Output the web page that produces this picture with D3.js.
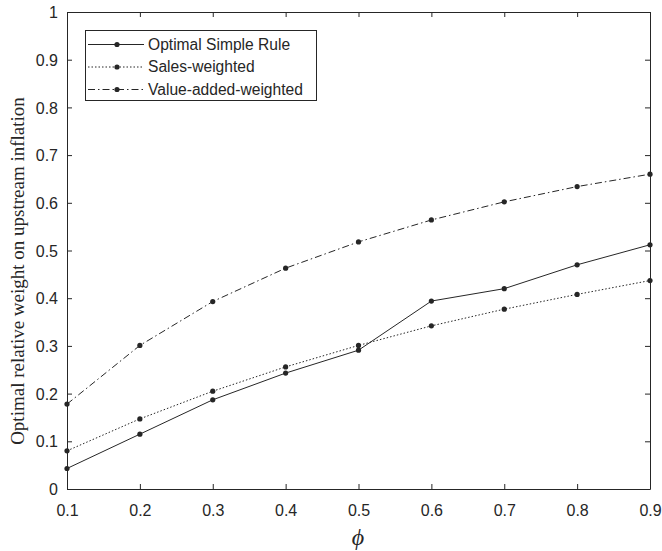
<!DOCTYPE html>
<html><head><meta charset="utf-8">
<script src="https://cdn.jsdelivr.net/npm/d3@7"></script>
<style>body{margin:0;background:#fff}</style>
</head><body>
<svg id="c" width="662" height="551"></svg>
<script>
const phi = [0.1,0.2,0.3,0.4,0.5,0.6,0.7,0.8,0.9];
const optimal = [0.043,0.115,0.187,0.243,0.291,0.394,0.420,0.470,0.512];
const sales = [0.080,0.147,0.205,0.256,0.301,0.342,0.377,0.408,0.437];
const valueAdded = [0.178,0.301,0.393,0.463,0.518,0.564,0.602,0.634,0.660];
const seriesNames = ["Optimal Simple Rule","Sales-weighted","Value-added-weighted"];
const xTicks = [0.1,0.2,0.3,0.4,0.5,0.6,0.7,0.8,0.9];
const yTicks = [0,0.1,0.2,0.3,0.4,0.5,0.6,0.7,0.8,0.9,1];

const svg = d3.select("#c");
const L=67, R=650, T=12, B=489;
const x = d3.scaleLinear().domain([0.1,0.9]).range([L,R]);
const y = d3.scaleLinear().domain([0,1]).range([B,T]);
const col = "#262626";
const fmt = d => d===0?"0":d===1?"1":d3.format(".1f")(d);
const tf = "Liberation Sans, Arial, sans-serif";

svg.append("rect").attr("x",L).attr("y",T).attr("width",R-L).attr("height",B-T).attr("fill","#fff");

// axes
const gx = svg.append("g").attr("transform",`translate(0,${B})`)
  .call(d3.axisBottom(x).tickValues(xTicks).tickFormat(fmt).tickSizeInner(-5).tickSizeOuter(0).tickPadding(16));
const gxt = svg.append("g").attr("transform",`translate(0,${T})`)
  .call(d3.axisTop(x).tickValues(xTicks).tickFormat("").tickSizeInner(-5).tickSizeOuter(0));
const gy = svg.append("g").attr("transform",`translate(${L},0)`)
  .call(d3.axisLeft(y).tickValues(yTicks).tickFormat(fmt).tickSizeInner(-5).tickSizeOuter(0).tickPadding(9));
const gyr = svg.append("g").attr("transform",`translate(${R},0)`)
  .call(d3.axisRight(y).tickValues(yTicks).tickFormat("").tickSizeInner(-5).tickSizeOuter(0));
[gx,gxt,gy,gyr].forEach(g=>{
  g.selectAll("path").attr("stroke",col).attr("stroke-width",1);
  g.selectAll("line").attr("stroke",col).attr("stroke-width",1);
  g.selectAll("text").attr("fill",col).style("font-family",tf).style("font-size","16px");
});
gy.selectAll("text").attr("dy","0.35em");

const series = [
  {name:seriesNames[0], vals:optimal, dash:null},
  {name:seriesNames[1], vals:sales, dash:"1.5,2"},
  {name:seriesNames[2], vals:valueAdded, dash:"7,3,1.5,3"}
];
const line = d3.line().x((d,i)=>x(phi[i])).y(d=>y(d));
series.forEach(s=>{
  svg.append("path").datum(s.vals).attr("d",line).attr("fill","none")
    .attr("stroke",col).attr("stroke-width",1).attr("stroke-dasharray",s.dash);
  svg.selectAll(null).data(s.vals).enter().append("circle")
    .attr("cx",(d,i)=>x(phi[i])).attr("cy",d=>y(d)).attr("r",2.6).attr("fill",col);
});

// legend
const lg = svg.append("g");
lg.append("rect").attr("x",85.5).attr("y",30.5).attr("width",231).attr("height",70)
  .attr("fill","#fff").attr("stroke",col).attr("stroke-width",1);
series.forEach((s,i)=>{
  const yy = 44.5 + i*22.5;
  lg.append("line").attr("x1",88).attr("x2",144).attr("y1",yy).attr("y2",yy)
    .attr("stroke",col).attr("stroke-width",1).attr("stroke-dasharray",s.dash);
  lg.append("circle").attr("cx",117).attr("cy",yy).attr("r",2.6).attr("fill",col);
  lg.append("text").attr("x",148).attr("y",yy).attr("dy","0.35em").text(s.name)
    .attr("fill",col).style("font-family",tf).style("font-size","15.6px");
});

// axis labels
svg.append("text").attr("transform",`translate(24,271) rotate(-90)`)
  .attr("text-anchor","middle").text("Optimal relative weight on upstream inflation")
  .attr("fill",col).style("font-family","Liberation Serif, Times New Roman, serif").style("font-size","19px");
svg.append("text").attr("x",358).attr("y",545).attr("text-anchor","middle").text("ϕ")
  .attr("fill",col).style("font-family","Liberation Serif, Times New Roman, serif").style("font-style","italic").style("font-size","24px");
</script>
</body></html>
